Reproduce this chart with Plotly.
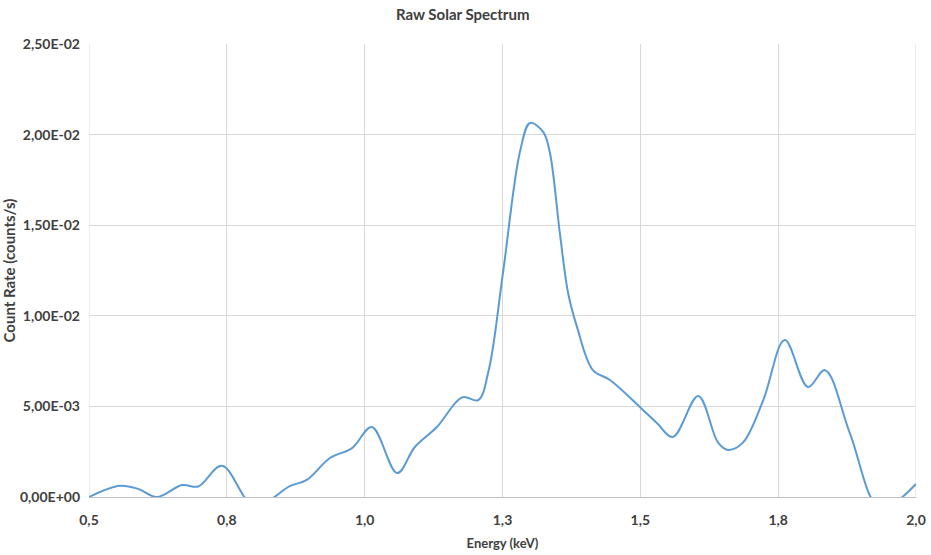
import plotly.graph_objects as go

energy_kev = [0.50, 0.556, 0.589, 0.623, 0.669, 0.698, 0.741, 0.800, 0.865, 0.895,
              0.937, 0.977, 1.013, 1.059, 1.091, 1.131, 1.177, 1.206, 1.225, 1.251,
              1.282, 1.300, 1.324, 1.336, 1.354, 1.369, 1.385, 1.414, 1.445, 1.499,
              1.530, 1.559, 1.605, 1.641, 1.659, 1.686, 1.723, 1.762, 1.804, 1.835,
              1.880, 1.935, 2.000]
count_rate = [0.0000, 0.00062, 0.00045, 0.0000, 0.00066, 0.00058, 0.00172, -0.0005, 0.00061, 0.00094,
              0.00215, 0.0027, 0.00386, 0.00132, 0.00276, 0.00386, 0.0055, 0.00535, 0.0070, 0.0124,
              0.0191, 0.02064, 0.02014, 0.0190, 0.01457, 0.01126, 0.0094, 0.0070, 0.00646, 0.00497,
              0.00408, 0.00331, 0.00557, 0.0030, 0.0026, 0.0030, 0.00535, 0.00866, 0.00607, 0.0070,
              0.00353, -0.0006, 0.00072]

x_tick_vals = [0.5, 0.75, 1.0, 1.25, 1.5, 1.75, 2.0]
x_tick_text = ["0,5", "0,8", "1,0", "1,3", "1,5", "1,8", "2,0"]
y_tick_vals = [0, 0.005, 0.01, 0.015, 0.02, 0.025]
y_tick_text = ["0,00E+00", "5,00E-03", "1,00E-02", "1,50E-02", "2,00E-02", "2,50E-02"]

FONT = "Lato, Noto Sans, sans-serif"
TXT = "#404040"

fig = go.Figure()
fig.add_trace(go.Scatter(
    x=energy_kev, y=count_rate, mode="lines",
    line=dict(color="#5B9BD5", width=2, shape="spline", smoothing=1.0),
    showlegend=False,
))

fig.update_layout(
    width=931, height=555,
    margin=dict(l=89, r=15, t=44, b=58, autoexpand=False),
    paper_bgcolor="white", plot_bgcolor="white",
    title=dict(text="<b>Raw Solar Spectrum</b>", x=0.497, xref="container", xanchor="center",
               y=0.983, yref="container", yanchor="top",
               font=dict(family=FONT, size=15, color=TXT)),
    font=dict(family=FONT, color=TXT),
)
fig.update_xaxes(
    range=[0.5, 2.0], tickvals=x_tick_vals, ticktext=x_tick_text,
    showgrid=True, gridcolor="#D9D9D9", gridwidth=1,
    showline=True, linecolor="#BFBFBF", linewidth=1, mirror=False,
    zeroline=False, ticks="", ticklabelstandoff=10, automargin=False,
    tickfont=dict(family=FONT, size=14, color=TXT, weight="bold"),
    title=dict(text="<b>Energy (keV)</b>", font=dict(family=FONT, size=13, color=TXT), standoff=12),
)
fig.update_yaxes(
    range=[0, 0.025], tickvals=y_tick_vals, ticktext=y_tick_text,
    showgrid=True, gridcolor="#D9D9D9", gridwidth=1,
    showline=False, zeroline=False, ticks="", ticklabelstandoff=8, automargin=False,
    tickfont=dict(family=FONT, size=14, color=TXT, weight="bold"),
    title=dict(text="<b>Count Rate (counts/s)</b>", font=dict(family=FONT, size=15, color=TXT), standoff=8),
)
fig.add_shape(type="line", xref="x", yref="paper", x0=2.0, x1=2.0, y0=0, y1=1,
              line=dict(color="#D9D9D9", width=1), layer="below")
fig.add_shape(type="line", xref="x", yref="paper", x0=0.5, x1=0.5, y0=0, y1=1,
              line=dict(color="#D9D9D9", width=1), layer="below")

fig.write_html("out.html", config={"displayModeBar": False},
               post_script="document.body.style.margin='0';document.body.style.overflow='hidden';")
